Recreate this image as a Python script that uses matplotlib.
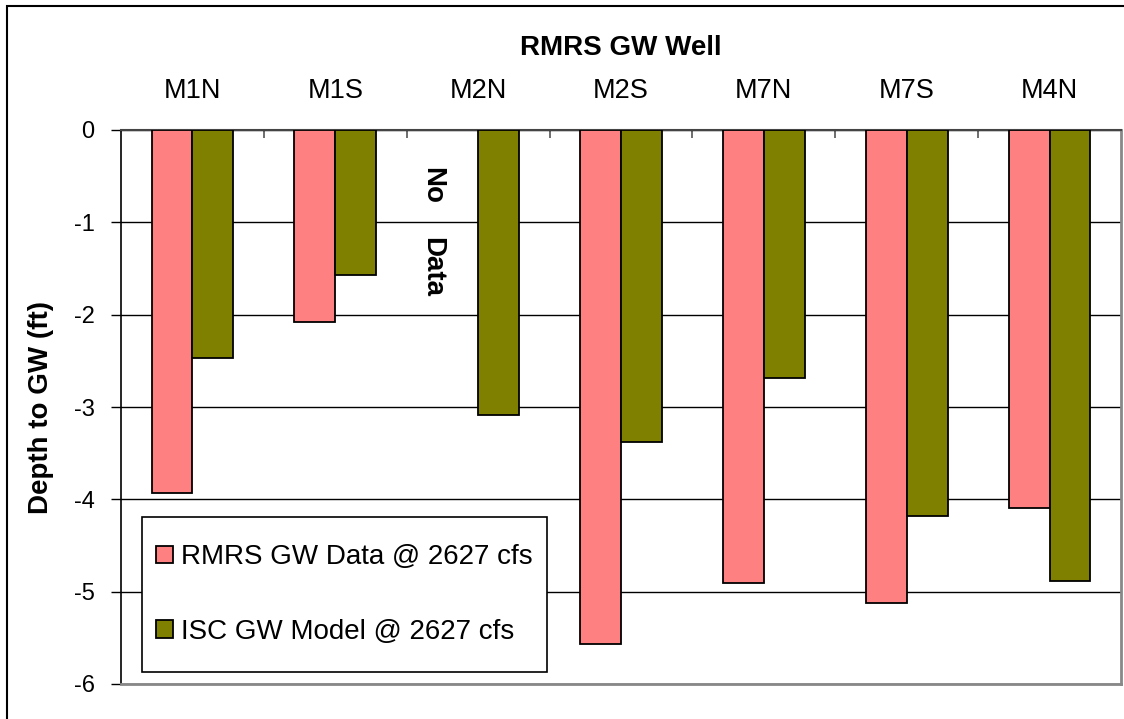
import matplotlib
matplotlib.use("Agg")
import matplotlib.pyplot as plt
import numpy as np
from matplotlib.patches import Rectangle

plt.rcParams['font.family'] = ['Liberation Sans', 'DejaVu Sans']

wells = ['M1N', 'M1S', 'M2N', 'M2S', 'M7N', 'M7S', 'M4N']
rmrs_data = [-3.93, -2.08, np.nan, -5.57, -4.91, -5.12, -4.09]
isc_model = [-2.47, -1.57, -3.09, -3.38, -2.69, -4.18, -4.88]
yticks = [0, -1, -2, -3, -4, -5, -6]

fig = plt.figure(figsize=(11.24, 7.19), dpi=100)
ax = fig.add_axes([121 / 1124, 1 - 684 / 719, 1000 / 1124, 554 / 719])

x = np.arange(len(wells))
w = 0.286
ax.bar(x - w / 2, rmrs_data, w, color='#FF8080', edgecolor='black', linewidth=1.3,
       zorder=3, label='RMRS GW Data @ 2627 cfs')
ax.bar(x + w / 2, isc_model, w, color='#808000', edgecolor='black', linewidth=1.3,
       zorder=3, label='ISC GW Model @ 2627 cfs')

ax.set_xlim(-0.5, len(wells) - 0.5)
ax.set_ylim(-6, 0)
ax.set_yticks(yticks)
ax.set_yticklabels([str(v) for v in yticks], fontsize=17)
ax.tick_params(axis='y', direction='out', length=7, width=1, pad=12)
ax.yaxis.grid(True, color='black', linewidth=1)
ax.set_axisbelow(True)

# category labels on top, tick marks at category boundaries
ax.xaxis.tick_top()
ax.set_xticks(np.arange(len(wells) - 1) + 0.5)
ax.set_xticklabels([])
ax.tick_params(axis='x', which='major', direction='in', length=6, width=1.2,
               color='#555555')
ax.set_xticks(x, minor=True)
ax.set_xticklabels(wells, minor=True, fontsize=19.5)
ax.tick_params(axis='x', which='minor', length=0, pad=19)
ax.xaxis.set_label_position('top')
ax.set_xlabel('RMRS GW Well', fontsize=20, fontweight='bold', labelpad=16)
ax.set_ylabel('Depth to GW (ft)', fontsize=20, fontweight='bold', labelpad=14)

ax.spines['left'].set_color('black')
ax.spines['left'].set_linewidth(1.2)
ax.spines['top'].set_color('#444444')
ax.spines['top'].set_linewidth(1.5)
for s in ['right', 'bottom']:
    ax.spines[s].set_color('#888888')
    ax.spines[s].set_linewidth(2)

ax.text(1.68, -0.6, 'No', rotation=-90, ha='center', va='center',
        fontsize=20, fontweight='bold', zorder=3)
ax.text(1.68, -1.48, 'Data', rotation=-90, ha='center', va='center',
        fontsize=20, fontweight='bold', zorder=3)

# legend box
ax.add_patch(Rectangle((0.021, 0.0217), 0.405, 0.279, transform=ax.transAxes,
                       facecolor='white', edgecolor='black', linewidth=1.2,
                       zorder=4))
leg = ax.legend(loc='center', bbox_to_anchor=(0.2235, 0.1616), frameon=False,
                fontsize=20, handlelength=0.6, handleheight=0.6,
                handletextpad=0.3, labelspacing=1.75)
leg.set_zorder(5)

# outer chart border
fig.patches.append(Rectangle((7 / 1124, -0.1), 1.2, 1 - 6 / 719 + 0.1,
                             transform=fig.transFigure, fill=False,
                             edgecolor='black', linewidth=1.5))

fig.savefig('out.png', dpi=100)
